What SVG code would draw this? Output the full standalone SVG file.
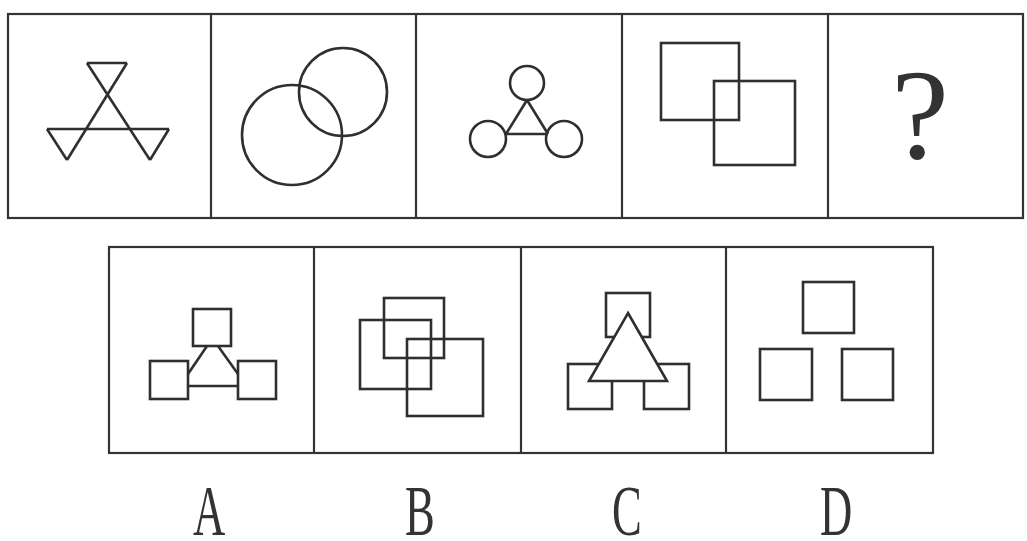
<svg xmlns="http://www.w3.org/2000/svg" width="1027" height="541" viewBox="0 0 1027 541">
<style>
.frame{fill:none;stroke:#333;stroke-width:2.2}
.fig{fill:none;stroke:#2f2f2f;stroke-width:2.6;stroke-linejoin:miter}
.fill{fill:#fff;stroke:#2f2f2f;stroke-width:2.6}
.lbl{font-family:"Liberation Serif",serif;font-size:72px;fill:#333;text-anchor:middle}
.q{font-family:"Liberation Serif",serif;font-size:130px;fill:#333;text-anchor:middle}
</style>
<rect width="1027" height="541" fill="#fff"/>
<g id="top-row">
<rect class="frame" x="8" y="14" width="1015" height="204"/>
<line class="frame" x1="211" y1="14" x2="211" y2="218"/>
<line class="frame" x1="416" y1="14" x2="416" y2="218"/>
<line class="frame" x1="622" y1="14" x2="622" y2="218"/>
<line class="frame" x1="828" y1="14" x2="828" y2="218"/>
</g>
<g id="fig1">
<line class="fig" x1="87" y1="63" x2="150" y2="160"/>
<line class="fig" x1="127" y1="63" x2="67" y2="160"/>
<line class="fig" x1="87" y1="63" x2="127" y2="63"/>
<line class="fig" x1="47" y1="129" x2="169" y2="129"/>
<line class="fig" x1="47" y1="129" x2="67" y2="160"/>
<line class="fig" x1="169" y1="129" x2="150" y2="160"/>
</g>
<g id="fig2">
<circle class="fig" cx="343" cy="92" r="44"/>
<circle class="fig" cx="292" cy="135" r="50"/>
</g>
<g id="fig3">
<circle class="fig" cx="527" cy="83" r="17"/>
<circle class="fig" cx="488" cy="139" r="18"/>
<circle class="fig" cx="564" cy="139" r="18"/>
<line class="fig" x1="527" y1="100" x2="506" y2="134"/>
<line class="fig" x1="527" y1="100" x2="548" y2="134"/>
<line class="fig" x1="506" y1="134" x2="548" y2="134"/>
</g>
<g id="fig4">
<rect class="fig" x="661" y="43" width="78" height="77"/>
<rect class="fig" x="714" y="81" width="81" height="84"/>
</g>
<g id="fig5">
<text class="q" x="920" y="158">?</text>
</g>
<g id="bottom-row">
<rect class="frame" x="109" y="247" width="824" height="206"/>
<line class="frame" x1="314" y1="247" x2="314" y2="453"/>
<line class="frame" x1="521" y1="247" x2="521" y2="453"/>
<line class="frame" x1="726" y1="247" x2="726" y2="453"/>
</g>
<g id="optA">
<rect class="fig" x="193" y="309" width="38" height="37"/>
<rect class="fig" x="150" y="361" width="38" height="38"/>
<rect class="fig" x="238" y="361" width="38" height="38"/>
<line class="fig" x1="207" y1="346" x2="188" y2="374"/>
<line class="fig" x1="218" y1="346" x2="238" y2="374"/>
<line class="fig" x1="188" y1="386" x2="238" y2="386"/>
</g>
<g id="optB">
<rect class="fig" x="384" y="298" width="60" height="60"/>
<rect class="fig" x="360" y="320" width="71" height="69"/>
<rect class="fig" x="407" y="339" width="76" height="77"/>
</g>
<g id="optC">
<rect class="fig" x="606" y="293" width="44" height="44"/>
<rect class="fig" x="568" y="364" width="44" height="45"/>
<rect class="fig" x="644" y="364" width="45" height="45"/>
<polygon class="fill" points="628,313 667,381 589,381"/>
</g>
<g id="optD">
<rect class="fig" x="803" y="282" width="51" height="51"/>
<rect class="fig" x="760" y="349" width="52" height="51"/>
<rect class="fig" x="842" y="349" width="51" height="51"/>
</g>
<g id="labels">
<text class="lbl" transform="translate(209 535) scale(0.62 1)">A</text>
<text class="lbl" transform="translate(420 535) scale(0.62 1)">B</text>
<text class="lbl" transform="translate(627 535) scale(0.62 1)">C</text>
<text class="lbl" transform="translate(836 535) scale(0.62 1)">D</text>
</g>
</svg>
